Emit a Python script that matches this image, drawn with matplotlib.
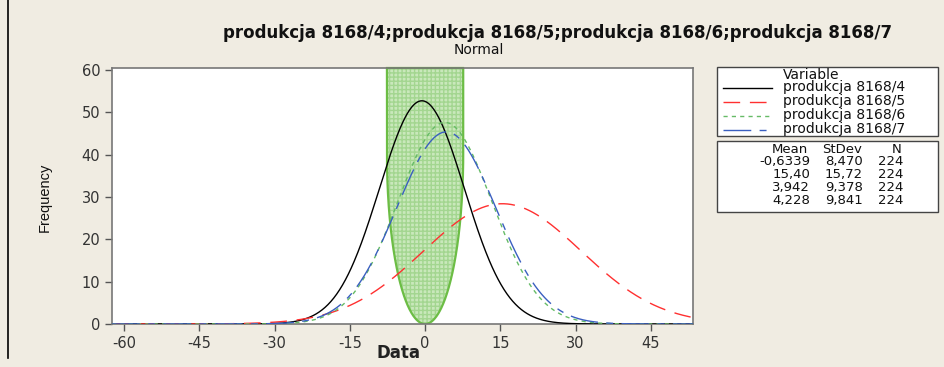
import numpy as np
import matplotlib
matplotlib.use("Agg")
import matplotlib.pyplot as plt
from matplotlib.lines import Line2D
from matplotlib.patches import Rectangle

plt.rcParams["axes.unicode_minus"] = False

# ---- data ----
variables = ["produkcja 8168/4", "produkcja 8168/5", "produkcja 8168/6", "produkcja 8168/7"]
means = [-0.6339, 15.40, 3.942, 4.228]
stdevs = [8.470, 15.72, 9.378, 9.841]
ns = [224, 224, 224, 224]
mean_labels = ["-0,6339", "15,40", "3,942", "4,228"]
stdev_labels = ["8,470", "15,72", "9,378", "9,841"]
bin_width = 5
xticks = [-60, -45, -30, -15, 0, 15, 30, 45]
yticks = [0, 10, 20, 30, 40, 50, 60]

colors = ["#000000", "#ff3030", "#66bb66", "#3a5fc0"]
dashes = [None, (12, 7), (3, 3), (20, 6, 5, 6)]

BG = "#f0ece2"
fig = plt.figure(figsize=(9.45, 3.67), dpi=100, facecolor=BG)
W, H = 945, 367
ax = fig.add_axes([112 / W, 1 - 324 / H, (693 - 112) / W, (324 - 68) / H])
ax.set_facecolor("white")
xmin, xmax = -62.4, 53.4
ax.set_xlim(xmin, xmax)
ax.set_ylim(0, 60.5)

# green highlighted region (annotation overlay)
yc, b, a = 40.0, 40.0, 7.6
t = np.linspace(0, np.pi / 2, 200)
ys_low = yc - b * np.sin(t)
xs_low = a * np.cos(t)
sx = np.concatenate([[-a, -a], -xs_low, xs_low[::-1], [a, a]])
sy = np.concatenate([[60.5, yc], ys_low, ys_low[::-1], [yc, 60.5]])
ax.fill(sx, sy, facecolor="#c9e8bb", edgecolor="none", zorder=1)
ax.fill(sx, sy, facecolor="none", edgecolor="#a3d690", hatch="++++", linewidth=0, zorder=1)
ax.plot(sx, sy, color="#6cbd45", lw=1.6, zorder=2)
ax.plot([-a, a], [60.5, 60.5], color="#6cbd45", lw=1.6, zorder=2, clip_on=False)

x = np.linspace(xmin, xmax, 800)
for m, s, n, c, d in zip(means, stdevs, ns, colors, dashes):
    yv = n * bin_width * np.exp(-0.5 * ((x - m) / s) ** 2) / (s * np.sqrt(2 * np.pi))
    ln, = ax.plot(x, yv, color=c, lw=1.0, zorder=3)
    if d:
        ln.set_dashes(d)

ax.set_xticks(xticks)
ax.set_yticks(yticks)
ax.tick_params(colors="#555555", labelcolor="#333333", labelsize=10.5, length=5, width=1)
for sp in ax.spines.values():
    sp.set_color("#777777")
    sp.set_linewidth(1.2)

fig.text(45 / W, 1 - 197 / H, "Frequency", rotation=90, ha="center", va="center",
         fontsize=10.5, family="Liberation Sans", color="#111111")
fig.text(399 / W, 1 - 353 / H, "Data", ha="center", va="center", fontsize=12,
         fontweight="bold", color="#222222")
fig.text(558 / W, 1 - 38 / H, ";".join(variables), ha="center", va="baseline",
         fontsize=12, fontweight="bold", color="#111111")
fig.text(479 / W, 1 - 54 / H, "Normal", ha="center", va="baseline", fontsize=10, color="#111111")

# left window border
fig.add_artist(Line2D([8 / W, 8 / W], [1 - 358 / H, 1.0], color="black", lw=1.2))

# legend boxes
def fx(px):
    return px / W

def fy(py):
    return 1 - py / H

fig.add_artist(Rectangle((fx(717), fy(136)), (938 - 717) / W, (136 - 67) / H,
                         facecolor="white", edgecolor="#444444", lw=1.0))
fig.add_artist(Rectangle((fx(717), fy(212)), (938 - 717) / W, (212 - 141) / H,
                         facecolor="white", edgecolor="#444444", lw=1.0))
fig.text(fx(783), fy(79), "Variable", ha="left", va="baseline", fontsize=10, color="#111111")
line_rows = [88, 102, 116, 130]
for name, c, d, ry in zip(variables, colors, dashes, line_rows):
    ln = Line2D([fx(723), fx(772)], [fy(ry), fy(ry)], color=c, lw=1.0)
    if d:
        ln.set_dashes(d)
    fig.add_artist(ln)
    fig.text(fx(783), fy(ry + 3.5), name, ha="left", va="baseline", fontsize=10, color="#111111")

trow = [165, 178, 191, 204]
fs = 9.5
fig.text(fx(808), fy(153), "Mean", ha="right", va="baseline", fontsize=fs, color="#111111")
fig.text(fx(862), fy(153), "StDev", ha="right", va="baseline", fontsize=fs, color="#111111")
fig.text(fx(902), fy(153), "N", ha="right", va="baseline", fontsize=fs, color="#111111")
for ml, sl, n, ry in zip(mean_labels, stdev_labels, ns, trow):
    fig.text(fx(810), fy(ry), ml, ha="right", va="baseline", fontsize=fs, color="#111111")
    fig.text(fx(863), fy(ry), sl, ha="right", va="baseline", fontsize=fs, color="#111111")
    fig.text(fx(903), fy(ry), str(n), ha="right", va="baseline", fontsize=fs, color="#111111")

fig.savefig("out.png", dpi=100, facecolor=BG)
